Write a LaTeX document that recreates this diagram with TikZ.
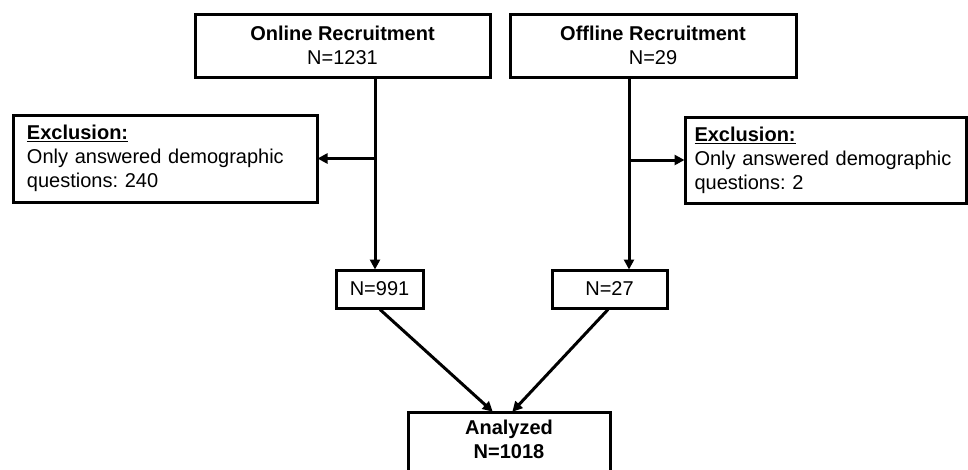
\documentclass[tikz,border=0pt]{standalone}
\usepackage{fontspec}
\setmainfont{Liberation Sans}
\frenchspacing
\usetikzlibrary{arrows.meta,calc}
\begin{document}
\begin{tikzpicture}[x=1pt,y=-1pt,
  box/.style={draw=black,line width=3pt,inner sep=0pt,align=center,
    font=\fontsize{20}{24}\selectfont},
  conn/.style={line width=3pt,-{Triangle[length=10pt,width=10pt]},shorten >=-1pt},
]
\useasboundingbox (0,0) rectangle (968,469);
\clip (0,0) rectangle (968,469);
\fill[white] (0,0) rectangle (968,469);
\node[box,minimum width=295pt,minimum height=63pt] (online) at (342.5,45.5)
  {\textbf{Online Recruitment}\\N=1231};
\node[box,minimum width=286pt,minimum height=63pt] (offline) at (653,45.5)
  {\textbf{Offline Recruitment}\\N=29};
\node[box,minimum width=304pt,minimum height=87pt,text width=276pt,align=left] (exl) at (165,158.5)
  {\hyphenpenalty=10000 \underline{\textbf{Exclusion:}}\\Only answered demographic\\questions: 240};
\node[box,minimum width=281pt,minimum height=86pt,text width=262pt,align=left] (exr) at (825.5,160)
  {\hyphenpenalty=10000 \underline{\textbf{Exclusion:}}\\Only answered demographic\\questions: 2};
\node[box,minimum width=87pt,minimum height=38pt] (n991) at (379.5,289) {N=991};
\node[box,minimum width=115pt,minimum height=38pt] (n27) at (609.5,289) {N=27};
\node[box,minimum width=202pt,minimum height=84pt,anchor=north] (ana) at (509,411)
  {\textbf{Analyzed}\\\textbf{N=1018}\\\strut};
\coordinate (lx) at (375,0);
\coordinate (rx) at (629,0);
\draw[conn] (online.south -| lx) -- (n991.north -| lx);
\draw[conn] (offline.south -| rx) -- (n27.north -| rx);
\draw[conn] (exl.east -| lx) -- (exl.east);
\draw[conn] (exr.west -| rx) -- (exr.west);
\draw[conn] ($(n991.south)+(0.5,0)$) -- ($(ana.north)+(-17,0)$);
\draw[conn] ($(n27.south)+(-1.5,0)$) -- ($(ana.north)+(4,0)$);
\end{tikzpicture}
\end{document}
